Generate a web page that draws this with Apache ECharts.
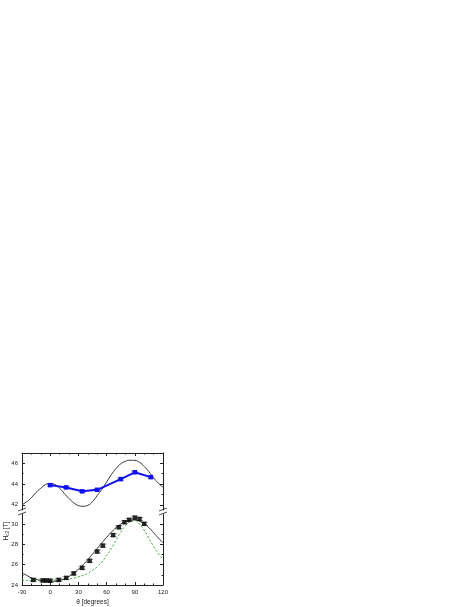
<!DOCTYPE html>
<html>
<head>
<meta charset="utf-8">
<script src="https://cdn.jsdelivr.net/npm/echarts@6/dist/echarts.min.js"></script>
<style>
  html, body {margin: 0; padding: 0; background: #fff;}
  #chart {width: 469px; height: 607px;}
</style>
</head>
<body>
<div id="chart"></div>
<script>
// angle grid of the model curves
let curveX = [-30, -25, -20, -15, -10, -5, 0, 5, 10, 15, 20, 25, 30, 35, 40, 45, 50, 55, 60, 65, 70, 75, 80, 85, 90, 95, 100, 105, 110, 115, 120];
// upper panel model (black)
let upperCurve = [42.0, 42.3, 42.7, 43.2, 43.6, 43.95, 44.05, 43.95, 43.6, 43.1, 42.6, 42.2, 41.93, 41.86, 41.95, 42.3, 42.9, 43.5, 44.2, 44.9, 45.5, 45.95, 46.2, 46.3, 46.28, 46.1, 45.7, 45.2, 44.6, 44.1, 43.7];
// lower panel model (black)
let lowerCurve = [25.2, 24.95, 24.7, 24.55, 24.45, 24.38, 24.35, 24.37, 24.45, 24.6, 24.85, 25.15, 25.55, 26.0, 26.5, 27.05, 27.6, 28.15, 28.7, 29.2, 29.65, 30.0, 30.25, 30.38, 30.4, 30.3, 30.05, 29.65, 29.15, 28.65, 28.15];
// lower panel model (green dashed)
let greenCurve = [24.45, 24.45, 24.45, 24.45, 24.45, 24.46, 24.47, 24.48, 24.5, 24.54, 24.6, 24.68, 24.8, 24.95, 25.15, 25.45, 25.8, 26.3, 26.9, 27.6, 28.4, 29.2, 29.85, 30.25, 30.35, 30.0, 29.4, 28.6, 27.8, 27.1, 26.5];

// measured points, upper (blue)
let blueX = [0, 17, 34, 50, 75, 90, 107];
let blueY = [43.9, 43.68, 43.3, 43.45, 44.48, 45.14, 44.67];
let blueErr = [0.1, 0.1, 0.1, 0.1, 0.1, 0.1, 0.1];
// measured points, lower (black)
let blackX = [-18, -8, -4, 0, 9, 17, 25, 34, 42, 50, 56, 67, 73, 79, 84, 90, 95, 100];
let blackY = [24.5, 24.45, 24.45, 24.42, 24.5, 24.7, 25.14, 25.69, 26.38, 27.3, 27.88, 28.92, 29.69, 30.19, 30.42, 30.64, 30.51, 30.03];
let blackErr = [0.15, 0.15, 0.15, 0.15, 0.15, 0.15, 0.15, 0.15, 0.15, 0.15, 0.15, 0.15, 0.15, 0.15, 0.15, 0.15, 0.15, 0.15];

let xTicks = [-30, 0, 30, 60, 90, 120];
let upperTicks = [42, 44, 46];
let upperMinor = [43, 45];
let lowerTicks = [24, 26, 28, 30];
let lowerMinor = [25, 27, 29];

let font = 'Liberation Sans';
let ink = '#222';

let pairs = function (xs, ys) {
  return xs.map(function (x, i) { return [x, ys[i]]; });
};

let errData = function (xs, ys, es) {
  return xs.map(function (x, i) { return [x, ys[i] - es[i], ys[i] + es[i]]; });
};

// error bar with caps
let errRender = function (params, api) {
  let lo = api.coord([api.value(0), api.value(1)]);
  let hi = api.coord([api.value(0), api.value(2)]);
  let w = 3.5;
  let st = {stroke: '#777', lineWidth: 0.8};
  return {
    type: 'group',
    children: [
      {type: 'line', shape: {x1: lo[0], y1: lo[1], x2: hi[0], y2: hi[1]}, style: st},
      {type: 'line', shape: {x1: lo[0] - w, y1: lo[1], x2: lo[0] + w, y2: lo[1]}, style: st},
      {type: 'line', shape: {x1: hi[0] - w, y1: hi[1], x2: hi[0] + w, y2: hi[1]}, style: st}
    ]
  };
};

// 4 y axes per panel: labelled left, minor left, right, minor right
let yAxes = function (grid, min, max, major, minor) {
  let line = {show: true, onZero: false, lineStyle: {color: ink, width: 1}};
  let noLine = {show: false, onZero: false};
  let base = {
    type: 'value', gridIndex: grid, min: min, max: max,
    splitLine: {show: false}
  };
  return [
    Object.assign({}, base, {
      position: 'left', axisLine: line,
      axisTick: {inside: true, length: 3, customValues: major, lineStyle: {color: ink}},
      axisLabel: {customValues: major, fontFamily: font, fontSize: 6, color: ink, margin: 4}
    }),
    Object.assign({}, base, {
      position: 'left', axisLine: noLine,
      axisTick: {inside: true, length: 1.5, customValues: minor, lineStyle: {color: ink}},
      axisLabel: {show: false}
    }),
    Object.assign({}, base, {
      position: 'right', axisLine: line,
      axisTick: {inside: true, length: 3, customValues: major, lineStyle: {color: ink}},
      axisLabel: {show: false}
    }),
    Object.assign({}, base, {
      position: 'right', axisLine: noLine,
      axisTick: {inside: true, length: 1.5, customValues: minor, lineStyle: {color: ink}},
      axisLabel: {show: false}
    })
  ];
};

let chart = echarts.init(document.getElementById('chart'));

let option = {
  animation: false,
  backgroundColor: '#fff',
  grid: [
    {left: 22, right: 306, top: 453, height: 57},
    {left: 22, right: 306, top: 514, height: 73}
  ],
  xAxis: [
    {
      type: 'value', gridIndex: 0, position: 'top', min: -30, max: 120, interval: 30,
      splitLine: {show: false},
      axisLine: {onZero: false, lineStyle: {color: ink, width: 1}},
      axisTick: {inside: true, length: 3, lineStyle: {color: ink}},
      minorTick: {show: true, splitNumber: 3, length: 1.5, lineStyle: {color: ink}},
      axisLabel: {show: false}
    },
    {
      type: 'value', gridIndex: 1, position: 'bottom', min: -30, max: 120, interval: 30,
      splitLine: {show: false},
      axisLine: {onZero: false, lineStyle: {color: ink, width: 1}},
      axisTick: {inside: true, length: 3, lineStyle: {color: ink}},
      minorTick: {show: true, splitNumber: 3, length: 1.5, lineStyle: {color: ink}},
      axisLabel: {customValues: xTicks, fontFamily: font, fontSize: 6, color: ink, margin: 4},
      name: 'θ [degrees]', nameLocation: 'middle', nameGap: 14,
      nameTextStyle: {fontFamily: font, fontSize: 6.5, color: ink}
    }
  ],
  yAxis: yAxes(0, 41.5, 47, upperTicks, upperMinor).concat(yAxes(1, 24, 31, lowerTicks, lowerMinor)),
  graphic: [
    {
      type: 'text', x: 6, y: 531, rotation: Math.PI / 2,
      style: {
        text: 'H{s|c2} [T]', fill: ink, font: '6.5px ' + font,
        align: 'center', verticalAlign: 'middle',
        rich: {s: {fontSize: 4.5, fontFamily: font, verticalAlign: 'bottom', padding: [3, 0, 0, 0]}}
      }
    },
    {type: 'line', shape: {x1: 18, y1: 511, x2: 26, y2: 508}, style: {stroke: ink, lineWidth: 0.8}},
    {type: 'line', shape: {x1: 18, y1: 515, x2: 26, y2: 512}, style: {stroke: ink, lineWidth: 0.8}},
    {type: 'line', shape: {x1: 159, y1: 511, x2: 167, y2: 508}, style: {stroke: ink, lineWidth: 0.8}},
    {type: 'line', shape: {x1: 159, y1: 515, x2: 167, y2: 512}, style: {stroke: ink, lineWidth: 0.8}}
  ],
  series: [
    {
      type: 'line', xAxisIndex: 0, yAxisIndex: 0, data: pairs(curveX, upperCurve),
      smooth: true, symbol: 'none', clip: true,
      lineStyle: {color: '#333', width: 1}
    },
    {
      type: 'custom', xAxisIndex: 0, yAxisIndex: 0, renderItem: errRender,
      data: errData(blueX, blueY, blueErr), z: 3
    },
    {
      type: 'line', xAxisIndex: 0, yAxisIndex: 0, data: pairs(blueX, blueY),
      symbol: 'rect', symbolSize: 4.5,
      lineStyle: {color: '#1010ee', width: 2},
      itemStyle: {color: '#1010ee'}, z: 4
    },
    {
      type: 'line', xAxisIndex: 1, yAxisIndex: 4, data: pairs(curveX, greenCurve),
      smooth: true, symbol: 'none',
      lineStyle: {color: '#2ea82e', width: 1, type: [2, 2]}
    },
    {
      type: 'line', xAxisIndex: 1, yAxisIndex: 4, data: pairs(curveX, lowerCurve),
      smooth: true, symbol: 'none',
      lineStyle: {color: '#333', width: 1}
    },
    {
      type: 'custom', xAxisIndex: 1, yAxisIndex: 4, renderItem: errRender,
      data: errData(blackX, blackY, blackErr), z: 3
    },
    {
      type: 'scatter', xAxisIndex: 1, yAxisIndex: 4, data: pairs(blackX, blackY),
      symbol: 'rect', symbolSize: 4.5,
      itemStyle: {color: '#000'}, z: 4
    }
  ]
};

chart.setOption(option);
</script>
</body>
</html>
